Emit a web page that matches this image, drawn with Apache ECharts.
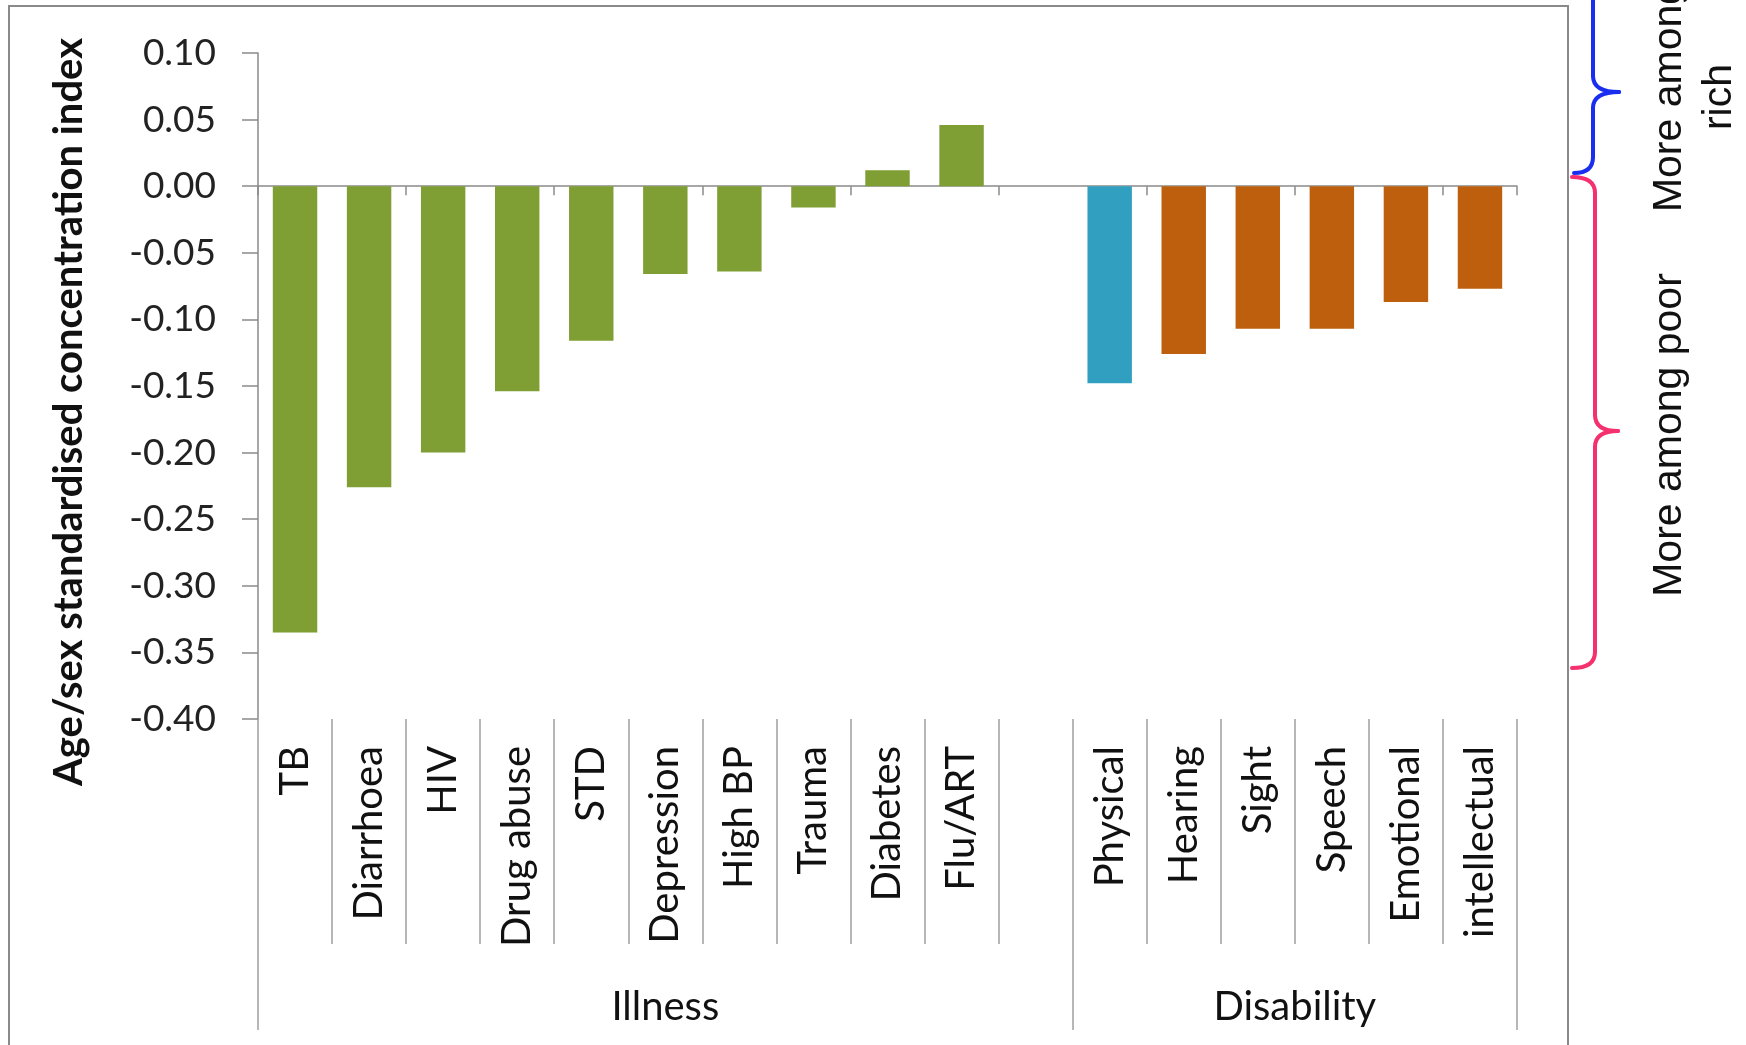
<!DOCTYPE html>
<html>
<head>
<meta charset="utf-8">
<script src="https://cdn.jsdelivr.net/npm/echarts@6/dist/echarts.min.js"></script>
<style>
html,body{margin:0;padding:0;background:#fff;}
#c{width:1746px;height:1045px;}
</style>
</head>
<body>
<div id="c"></div>
<script>
// ---- data ----
const categories = ['TB','Diarrhoea','HIV','Drug abuse','STD','Depression','High BP','Trauma','Diabetes','Flu/ART','','Physical','Hearing','Sight','Speech','Emotional','intellectual'];
const values = [-0.335,-0.226,-0.200,-0.154,-0.116,-0.066,-0.064,-0.016,0.012,0.046,null,-0.148,-0.126,-0.107,-0.107,-0.087,-0.077];
const groups = ['Illness','Disability'];
const groupSpans = [11, 6];
const yMin = -0.40, yMax = 0.10, yStep = 0.05;
const yTitle = 'Age/sex standardised concentration index';
const noteRich = 'More among\nrich';
const notePoor = 'More among poor';

// ---- derived ----
const groupBounds = [0];
groupSpans.forEach(s => groupBounds.push(groupBounds[groupBounds.length - 1] + s));
const groupCenters = groupSpans.map((s, i) => groupBounds[i] + s / 2);
const nSlots = categories.length;

const GREEN = '#7f9e34', TEAL = '#31a0c0', ORANGE = '#bd5f0c';
function barColor(idx) {
  if (idx < groupBounds[1]) return GREEN;
  if (categories[idx] === 'Physical') return TEAL;
  return ORANGE;
}

const FONT = 'Lato, "Open Sans", sans-serif';

function brace(xe, xl, xt, y0, ym, y1, r, color) {
  const st = { stroke: color, lineWidth: 4, fill: 'none', lineCap: 'round' };
  const q = (x1, y1, cx, cy, x2, y2) => ({ type: 'bezierCurve', shape: { x1, y1, x2, y2, cpx1: cx, cpy1: cy }, style: st, silent: true });
  const l = (x1, y1, x2, y2) => ({ type: 'line', shape: { x1, y1, x2, y2 }, style: st, silent: true });
  return [
    q(xe, y0, xl, y0, xl, y0 + r),
    l(xl, y0 + r, xl, ym - r),
    q(xl, ym - r, xl, ym, xt, ym),
    q(xt, ym, xl, ym, xl, ym + r),
    l(xl, ym + r, xl, y1 - r),
    q(xl, y1 - r, xl, y1, xe, y1)
  ];
}

const chart = echarts.init(document.getElementById('c'));
chart.setOption({
  animation: false,
  backgroundColor: '#fff',
  grid: { left: 258, right: 229, top: 53, bottom: 326, containLabel: false },
  xAxis: [
    {
      type: 'category', data: categories, position: 'bottom',
      axisLine: { onZero: true, lineStyle: { color: '#8a8a8a', width: 1.5 } },
      axisTick: { show: true, length: 9, lineStyle: { color: '#8a8a8a', width: 1.5 } },
      axisLabel: { show: false }
    },
    {
      type: 'category', data: categories, position: 'bottom',
      axisLine: { show: false, onZero: false },
      axisTick: { show: true, length: 225, interval: 0, lineStyle: { color: '#a0a0a0', width: 1.5 } },
      axisLabel: { show: true, interval: 0, rotate: 90, margin: 27, fontFamily: FONT, fontSize: 40, color: '#111' }
    },
    {
      type: 'value', min: 0, max: nSlots, position: 'bottom',
      axisLine: { show: false, onZero: false },
      splitLine: { show: false },
      axisTick: { show: true, customValues: groupBounds, length: 311, lineStyle: { color: '#a0a0a0', width: 1.5 } },
      axisLabel: {
        show: true, customValues: groupCenters, margin: 268, fontFamily: FONT, fontSize: 40, color: '#111',
        formatter: v => { const i = groupCenters.indexOf(v); return i >= 0 ? groups[i] : ''; }
      }
    }
  ],
  yAxis: {
    type: 'value', min: yMin, max: yMax, interval: yStep,
    axisLine: { show: true, lineStyle: { color: '#8a8a8a', width: 1.5 } },
    axisTick: { show: true, length: 16, lineStyle: { color: '#8a8a8a', width: 1.5 } },
    splitLine: { show: false },
    axisLabel: { margin: 42, fontFamily: FONT, fontSize: 37, color: '#222', formatter: v => v.toFixed(2) }
  },
  series: [{
    type: 'bar', xAxisIndex: 0, yAxisIndex: 0, data: values, barWidth: '60%',
    itemStyle: { color: p => barColor(p.dataIndex) }
  }],
  graphic: [
    { type: 'rect', shape: { x: 9, y: 6, width: 1559, height: 1080 }, style: { fill: 'none', stroke: '#8a8a8a', lineWidth: 2 }, silent: true, z: -1 },
    { type: 'text', x: 69, y: 412, rotation: Math.PI / 2,
      style: { text: yTitle, font: `bold 40px ${FONT}`, fill: '#111', textAlign: 'center', textVerticalAlign: 'middle' } },
    ...brace(1574, 1593, 1619, -15, 92, 173, 16, '#1a2ef0'),
    ...brace(1572, 1595, 1618, 177, 431, 668, 16, '#f5306e'),
    { type: 'text', x: 1695, y: 97, rotation: Math.PI / 2,
      style: { text: noteRich, font: '41px "Liberation Sans", Arial, sans-serif', lineHeight: 50, fill: '#111', textAlign: 'center', textVerticalAlign: 'middle' } },
    { type: 'text', x: 1670, y: 435, rotation: Math.PI / 2,
      style: { text: notePoor, font: '41px "Liberation Sans", Arial, sans-serif', fill: '#111', textAlign: 'center', textVerticalAlign: 'middle' } }
  ]
});
</script>
</body>
</html>
